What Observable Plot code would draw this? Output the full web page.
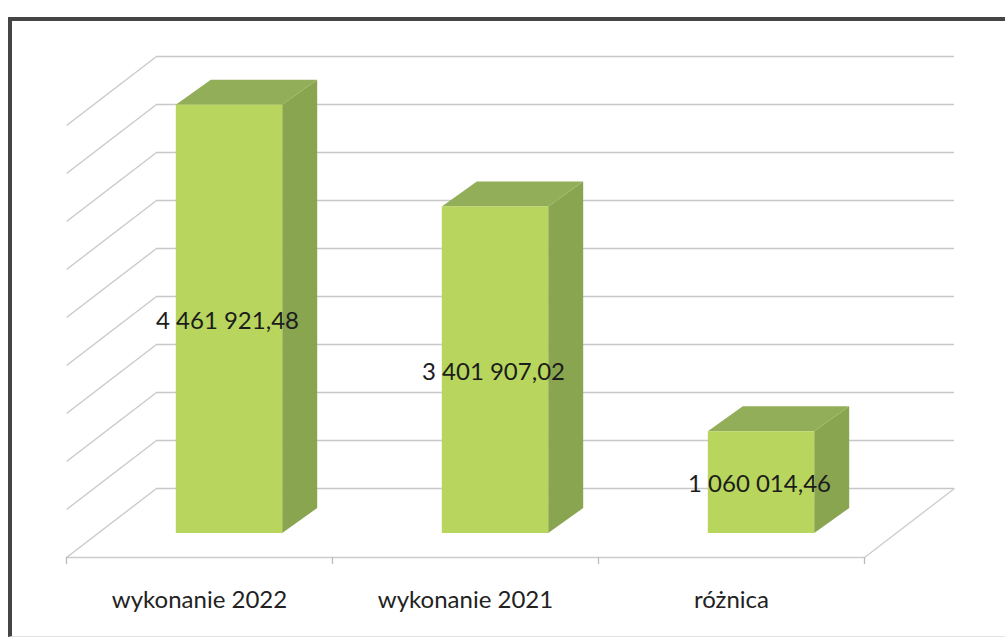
<!DOCTYPE html>
<html><head><meta charset="utf-8">
<script src="https://cdn.jsdelivr.net/npm/d3@7"></script>
<script src="https://cdn.jsdelivr.net/npm/@observablehq/plot@0.6"></script>
<style>
body{margin:0;background:#fff;}
#wrap{position:relative;width:1005px;height:638px;overflow:hidden;background:#fff;}
#border{position:absolute;left:8px;top:17px;width:1010px;height:615px;border-left:4px solid #454545;border-top:4px solid #454545;border-bottom:1px solid #e2e2e2;}
#chart{position:absolute;left:0;top:0;}
</style></head><body><div id="wrap"><div id="border"></div><div id="chart"></div></div>
<script>
const categories = ["wykonanie 2022", "wykonanie 2021", "różnica"];
const values = [4461921.48, 3401907.02, 1060014.46];
const valueLabels = ["4 461 921,48", "3 401 907,02", "1 060 014,46"];
const gridTicks = [0, 500000, 1000000, 1500000, 2000000, 2500000, 3000000, 3500000, 4000000, 4500000];

const W = 1005, H = 638;
const mL = 96, mR = 111, mT = 101, mB = 105;
const xDomain = [-0.5, 2.5], yDomain = [0, 4500000];
const kx = (xDomain[1] - xDomain[0]) / (W - mL - mR);   // data units per px
const ky = (yDomain[1] - yDomain[0]) / (H - mT - mB);
// 3D depth offsets in pixels
const BACK = [60, 45], FRONT = [-30, -24], DEPTH = [35, 25], HALF = 0.2;

const bars = categories.map((c, i) => ({i, cat: c, v: values[i], label: valueLabels[i]}));
const sidePts = bars.flatMap(b => [
  {i: b.i, x: b.i + HALF, y1: 0, y2: b.v},
  {i: b.i, x: b.i + HALF + DEPTH[0] * kx, y1: DEPTH[1] * ky, y2: b.v + DEPTH[1] * ky}
]);
const topPts = bars.flatMap(b => [
  {i: b.i, y: b.v, x1: b.i - HALF, x2: b.i + HALF},
  {i: b.i, y: b.v + DEPTH[1] * ky, x1: b.i - HALF + DEPTH[0] * kx, x2: b.i + HALF + DEPTH[0] * kx}
]);
const floorTicks = [-0.5, 0.5, 1.5, 2.5];

const font = "Lato, 'Open Sans', sans-serif";
const chart = Plot.plot({
  width: W, height: H,
  marginLeft: mL, marginRight: mR, marginTop: mT, marginBottom: mB,
  x: {domain: xDomain, axis: null},
  y: {domain: yDomain, axis: null},
  style: {background: "transparent", fontFamily: font},
  marks: [
    // back wall gridlines
    Plot.ruleY(gridTicks, {y: d => d, x1: xDomain[0], x2: xDomain[1], dx: BACK[0], dy: -BACK[1], stroke: "#c8c8c8", strokeWidth: 1.3}),
    // left wall diagonals
    Plot.link(gridTicks, {
      x1: () => xDomain[0] + BACK[0] * kx, y1: d => d + BACK[1] * ky,
      x2: () => xDomain[0] + FRONT[0] * kx, y2: d => d + FRONT[1] * ky,
      stroke: "#c8c8c8", strokeWidth: 1.3
    }),
    // floor front edge
    Plot.ruleY([0], {x1: xDomain[0], x2: xDomain[1], dx: FRONT[0], dy: -FRONT[1], stroke: "#cccccc", strokeWidth: 1.3}),
    // floor right edge
    Plot.link([0], {
      x1: () => xDomain[1] + FRONT[0] * kx, y1: d => d + FRONT[1] * ky,
      x2: () => xDomain[1] + BACK[0] * kx, y2: d => d + BACK[1] * ky,
      stroke: "#cccccc", strokeWidth: 1.3
    }),
    // floor ticks
    Plot.ruleX(floorTicks, {x: d => d, y1: FRONT[1] * ky, y2: (FRONT[1] - 7) * ky, dx: FRONT[0], stroke: "#bbbbbb", strokeWidth: 1.3}),
    // side faces
    Plot.areaY(sidePts, {x: "x", y1: "y1", y2: "y2", z: "i", fill: "#89a54f", curve: "linear"}),
    // top faces
    Plot.areaX(topPts, {y: "y", x1: "x1", x2: "x2", z: "i", fill: "#93ae58", curve: "linear"}),
    // front faces
    Plot.rect(bars, {x1: d => d.i - HALF, x2: d => d.i + HALF, y1: 0, y2: "v", fill: "#b8d65d"}),
    // value labels
    Plot.text(bars, {x: "i", y: d => d.v / 2, text: "label", fontSize: 24, fill: "#1c1c1c", dx: -2, dy: 2}),
    // category labels
    Plot.text(bars, {x: "i", y: 0, text: "cat", fontSize: 24, fill: "#222", dx: FRONT[0], dy: 67})
  ]
});
document.getElementById("chart").appendChild(chart);
</script>
</body></html>
